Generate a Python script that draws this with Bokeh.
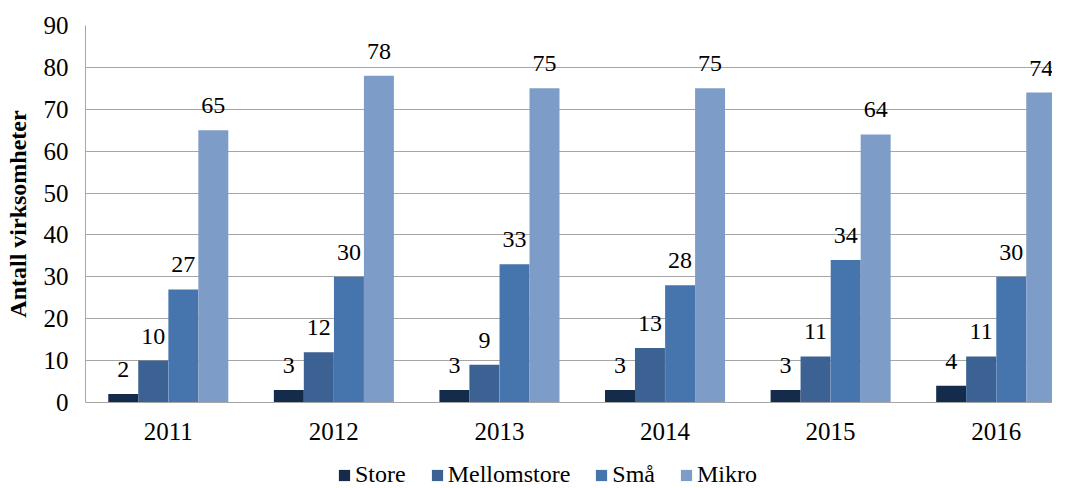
from bokeh.plotting import figure
from bokeh.layouts import column
from bokeh.models import ColumnDataSource, Range1d, FixedTicker, Legend, LegendItem
from bokeh.core.properties import value
from bokeh.embed import file_html
from bokeh.resources import INLINE

years = ["2011", "2012", "2013", "2014", "2015", "2016"]
series = ["Store", "Mellomstore", "Små", "Mikro"]
store = [2, 3, 3, 3, 3, 4]
mellomstore = [10, 12, 9, 13, 11, 11]
sma = [27, 30, 33, 28, 34, 30]
mikro = [65, 78, 75, 75, 64, 74]
colors = ["#152b4c", "#3b6292", "#4675ae", "#7e9cc8"]

FONT = "Liberation Serif"
values_all = [store, mellomstore, sma, mikro]
offsets = [-0.272, -0.091, 0.091, 0.272]
bar_w = 0.181

p = figure(width=1052, height=447, output_backend="svg", toolbar_location=None,
           x_range=Range1d(0, 5.84), y_range=Range1d(0, 90),
           min_border_left=85, min_border_right=0, min_border_top=25, min_border_bottom=45)
p.outline_line_color = None
p.background_fill_color = "white"
p.border_fill_color = "white"

for name, vals, off, col in zip(series, values_all, offsets, colors):
    src = ColumnDataSource(dict(x=[i + 0.5 + off for i in range(len(years))], top=vals,
                                lab=[str(v) for v in vals]))
    p.vbar(x="x", top="top", width=bar_w, source=src, fill_color=col, line_color=None)
    p.text(x="x", y="top", text="lab", source=src, text_align="center", text_baseline="bottom",
           y_offset=-17, text_font=value(FONT), text_font_size="24px", text_color="#000000")

# axes
p.xaxis.ticker = FixedTicker(ticks=[i + 0.5 for i in range(len(years))])
p.xaxis.major_label_overrides = {i + 0.5: y for i, y in enumerate(years)}
p.xaxis.major_label_text_font = FONT
p.xaxis.major_label_text_font_size = "25px"
p.xaxis.major_label_text_color = "#000000"
p.xaxis.major_label_standoff = 14
p.xaxis.major_tick_line_color = None
p.xaxis.minor_tick_line_color = None
p.xaxis.axis_line_color = "#a6a6a6"

p.yaxis.ticker = FixedTicker(ticks=list(range(0, 91, 10)))
p.yaxis.major_label_text_font = FONT
p.yaxis.major_label_text_font_size = "25px"
p.yaxis.major_label_text_color = "#000000"
p.yaxis.major_label_standoff = 11
p.yaxis.major_tick_line_color = None
p.yaxis.minor_tick_line_color = None
p.yaxis.axis_line_color = "#a6a6a6"
p.yaxis.axis_label = "Antall virksomheter"
p.yaxis.axis_label_text_font = FONT
p.yaxis.axis_label_text_font_size = "24px"
p.yaxis.axis_label_text_font_style = "bold"
p.yaxis.axis_label_text_color = "#000000"
p.yaxis.axis_label_standoff = 10

p.xgrid.grid_line_color = None
p.ygrid.grid_line_color = "#a6a6a6"
p.ygrid.grid_line_width = 1

# legend strip
lf = figure(width=1052, height=41, output_backend="svg", toolbar_location=None,
            x_range=Range1d(0, 1), y_range=Range1d(0, 1),
            min_border_left=85, min_border_right=0, min_border_top=0, min_border_bottom=0)
lf.axis.visible = False
lf.grid.grid_line_color = None
lf.outline_line_color = None
items = []
for name, col in zip(series, colors):
    r = lf.vbar(x=[5.0], top=[0.0], width=0.1, fill_color=col, line_color=None)
    items.append(LegendItem(label=name, renderers=[r]))
legend = Legend(items=items, orientation="horizontal", location=(252, 0),
                label_text_font=FONT, label_text_font_size="24px", label_text_color="#000000",
                glyph_width=14, glyph_height=14, label_standoff=4, spacing=24,
                border_line_color=None, background_fill_alpha=0, padding=0, margin=0)
lf.add_layout(legend, "center")

open("out.html", "w").write(file_html(column(p, lf, spacing=0), INLINE))
